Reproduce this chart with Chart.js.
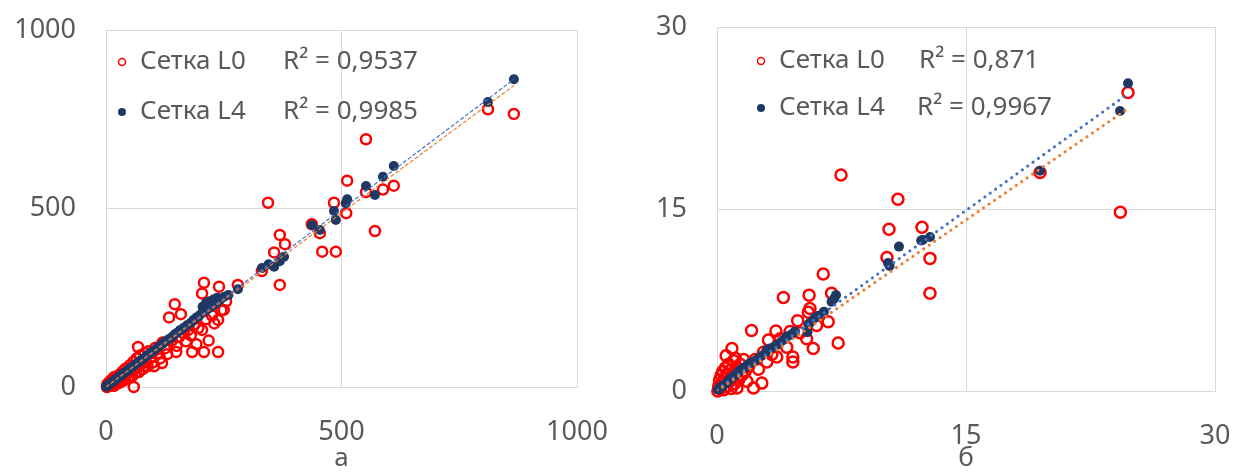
<!DOCTYPE html>
<html>
<head>
<meta charset="utf-8">
<script src="https://cdn.jsdelivr.net/npm/chart.js@4.4.1/dist/chart.umd.min.js"></script>
<style>
    body { margin: 0; background: #fff; }
    .box { position: absolute; top: 0; height: 472px; }
</style>
</head>
<body>
<div class="box" style="left:0;width:620px"><canvas id="chartA" width="620" height="472"></canvas></div>
<div class="box" style="left:620px;width:613px"><canvas id="chartB" width="613" height="472"></canvas></div>
<script>
// series names and captions
const seriesNames = ["Сетка L0", "Сетка L4"];
const captions = ["а", "б"];

// chart а: ticks, R², trend lines
const ticksA = [0, 500, 1000];
const r2A = ["0,9537", "0,9985"];
const slopeA = [0.975, 0.995];
const interceptA = [0, 0];
const trendEndA = 866;

const l0A = [[2,0],[3,8],[5,2],[6,12],[8,4],[10,18],[12,6],[14,22],[15,10],[17,3],[18,28],[20,14],[22,8],[24,30],[25,18],[28,12],
    [30,36],[32,25],[34,16],[36,44],[38,30],[40,20],[42,52],[45,38],[48,28],[50,60],[52,42],[55,30],[58,70],[60,50],[59,0],[62,38],
    [65,80],[68,55],[70,42],[72,88],[75,65],[78,50],[68,112],[82,95],[85,70],[88,58],[90,100],[95,82],[98,68],[102,58],[105,110],
    [110,95],[115,80],[119,67],[120,125],[125,108],[130,92],[134,195],[140,130],[146,232],[149,98],[150,115],[155,140],[159,204],
    [165,150],[170,128],[175,160],[180,145],[183,98],[188,175],[192,120],[196,165],[204,262],[204,160],[208,292],[208,98],[212,190],
    [218,130],[225,200],[230,178],[238,188],[238,98],[240,281],[245,215],[250,216],[255,240],[280,286],[331,325],[344,516],[357,377],
    [369,426],[369,286],[380,400],[437,456],[454,431],[459,379],[484,516],[488,379],[510,487],[512,578],[552,694],[552,546],[571,437],
    [588,553],[611,564],[811,778],[866,765]];
const l4A = [[0,1],[2,3],[4,4],[5,6],[7,8],[9,9],[10,11],[12,13],[14,14],[16,16],[18,19],[20,21],[22,22],[25,25],[27,28],[30,31],
    [33,33],[35,36],[38,39],[41,42],[44,45],[47,47],[50,51],[54,55],[58,58],[62,63],[66,67],[70,70],[75,76],[80,80],[85,86],[90,91],
    [96,97],[102,102],[108,109],[114,115],[120,121],[126,128],[133,134],[140,140],[146,148],[152,153],[158,160],[165,166],[172,173],
    [180,180],[186,188],[192,195],[198,200],[204,207],[205,225],[210,213],[212,235],[216,218],[220,240],[222,224],[228,229],[228,245],
    [235,236],[236,250],[242,244],[250,252],[260,258],[280,274],[331,333],[345,344],[357,337],[369,352],[378,365],[437,454],[454,440],
    [484,493],[488,468],[509,515],[512,526],[552,563],[571,538],[588,589],[611,619],[811,798],[866,862]];

// chart б
const ticksB = [0, 15, 30];
const r2B = ["0,871", "0,9967"];
const slopeB = [0.94, 0.985];
const interceptB = [0, 0.1];
const trendEndB = 24.6;

const l0B = [[0.05,0],[0.1,0.4],[0.15,0.9],[0.2,0.2],[0.25,1.3],[0.3,0.6],[0.35,1.6],[0.4,0.1],[0.45,1.0],[0.5,1.9],[0.55,2.9],
    [0.6,0.4],[0.65,1.4],[0.7,2.2],[0.75,0.8],[0.8,1.7],[0.85,0.2],[0.9,3.5],[0.95,1.2],[1.0,2.5],[1.05,0.6],[1.1,2.7],[1.15,1.5],
    [1.2,0.25],[1.25,1.9],[1.3,0.9],[1.4,2.2],[1.5,1.3],[1.6,2.6],[1.7,1.6],[1.8,0.8],[1.9,2.0],[2.08,4.98],[2.2,0.25],[2.3,2.6],
    [2.5,1.8],[2.7,0.65],[2.8,3.2],[3.0,2.4],[3.1,4.2],[3.3,3.0],[3.55,4.95],[3.6,2.8],[3.8,4.3],[4.0,7.7],[4.2,3.6],[4.4,4.9],
    [4.57,2.8],[4.57,2.4],[4.86,5.8],[5.0,4.8],[5.4,4.3],[5.5,6.5],[5.55,7.9],[5.6,6.8],[5.8,3.5],[6.0,5.4],[6.4,9.65],[6.7,5.7],
    [6.9,8.05],[7.3,3.95],[7.47,17.8],[10.24,11.0],[10.36,13.33],[10.9,15.8],[12.35,13.5],[12.83,10.93],[12.83,8.05],[19.46,18.0],
    [24.3,14.73],[24.76,24.6]];
const l4B = [[0.05,0.1],[0.1,0.15],[0.2,0.3],[0.3,0.35],[0.4,0.5],[0.5,0.6],[0.6,0.7],[0.7,0.85],[0.8,1.0],[0.9,1.1],[1.0,1.2],
    [1.1,1.3],[1.2,1.45],[1.3,1.6],[1.4,1.7],[1.5,1.8],[1.6,1.85],[1.7,1.95],[1.8,2.1],[1.98,2.3],[2.1,2.35],[2.3,2.5],[2.5,2.7],
    [2.7,2.9],[2.9,3.1],[3.0,3.4],[3.2,3.5],[3.4,3.6],[3.6,3.8],[3.8,4.0],[4.0,4.2],[4.2,4.5],[4.4,4.6],[4.58,4.76],[4.7,4.9],
    [5.45,4.85],[5.5,5.5],[5.6,5.6],[5.87,6.0],[6.1,6.2],[6.44,6.54],[6.9,7.35],[7.05,7.6],[7.17,7.9],[10.3,10.55],[10.4,10.3],
    [10.96,11.9],[12.3,12.4],[12.4,12.45],[12.83,12.69],[19.46,18.16],[24.28,23.08],[24.76,25.36]];

const RED = "#FF0000";
const NAVY = "#1F3864";
const TREND = ["#ED7D31", "#4472C4"];
const TEXT = "#595959";
const FONT = "'Noto Sans', 'DejaVu Sans', sans-serif";

const toPoints = arr => arr.map(p => ({ x: p[0], y: p[1] }));

// legend + R² drawn inside the plot area
const insideLegend = {
    id: "insideLegend",
    afterDraw(chart, args, opts) {
        const { ctx, chartArea } = chart;
        ctx.save();
        ctx.font = "26px " + FONT;
        ctx.fillStyle = TEXT;
        ctx.textBaseline = "middle";
        seriesNames.forEach((name, i) => {
            const y = chartArea.top + opts.rows[i];
            const mx = chartArea.left + opts.marker;
            ctx.beginPath();
            ctx.arc(mx, y, i === 0 ? 3.5 : 4, 0, Math.PI * 2);
            if (i === 0) { ctx.strokeStyle = RED; ctx.lineWidth = 1.5; ctx.stroke(); }
            else { ctx.fillStyle = NAVY; ctx.fill(); ctx.fillStyle = TEXT; }
            ctx.fillText(name, chartArea.left + opts.text, y);
            ctx.fillText("R² = " + opts.r2[i], chartArea.left + opts.r2x[i], y);
        });
        ctx.restore();
    }
};

function makeChart(id, cfg) {
    const trend = [0, 1].map(i => ({
        type: "line",
        showLine: true,
        data: [{ x: 0, y: cfg.intercept[i] }, { x: cfg.trendEnd, y: cfg.intercept[i] + cfg.slope[i] * cfg.trendEnd }],
        borderColor: TREND[i],
        borderWidth: cfg.trendWidth,
        borderDash: cfg.trendDash,
        borderCapStyle: cfg.trendCap,
        pointRadius: 0,
        fill: false,
        order: 0
    }));
    new Chart(document.getElementById(id), {
        type: "scatter",
        data: {
            datasets: [
                { label: seriesNames[0], data: toPoints(cfg.l0), pointStyle: "circle", pointRadius: cfg.redR, borderWidth: cfg.redW,
                  pointBorderColor: RED, pointBackgroundColor: "rgba(0,0,0,0)", order: 2, clip: false },
                { label: seriesNames[1], data: toPoints(cfg.l4), pointStyle: "circle", pointRadius: cfg.blueR, borderWidth: 0,
                  pointBorderColor: NAVY, pointBackgroundColor: NAVY, order: 1, clip: false },
                ...trend
            ]
        },
        options: {
            responsive: false,
            animation: false,
            devicePixelRatio: 1,
            layout: { padding: cfg.padding },
            plugins: {
                legend: { display: false },
                tooltip: { enabled: false },
                insideLegend: cfg.legend
            },
            scales: {
                x: {
                    type: "linear", min: cfg.ticks[0], max: cfg.ticks[2],
                    afterBuildTicks: s => { s.ticks = cfg.ticks.map(v => ({ value: v })); },
                    afterFit: s => { s.height = cfg.xHeight; s.paddingLeft = 0; s.paddingRight = 0; },
                    grid: { color: "#D9D9D9", drawTicks: false },
                    border: { color: "#D9D9D9" },
                    ticks: { color: TEXT, font: { family: FONT, size: 27 }, padding: 29, maxRotation: 0, callback: v => String(v) },
                    title: { display: true, text: cfg.caption, color: TEXT, font: { family: FONT, size: 26, lineHeight: 1 }, padding: 0 }
                },
                y: {
                    type: "linear", min: cfg.ticks[0], max: cfg.ticks[2],
                    afterBuildTicks: s => { s.ticks = cfg.ticks.map(v => ({ value: v })); },
                    afterFit: s => { s.width = cfg.yWidth; s.paddingTop = 0; s.paddingBottom = 0; },
                    grid: { color: "#D9D9D9", drawTicks: false },
                    border: { color: "#D9D9D9" },
                    ticks: { color: TEXT, font: { family: FONT, size: 27 }, padding: 30, callback: v => String(v) }
                }
            }
        },
        plugins: [insideLegend]
    });
}

makeChart("chartA", {
    l0: l0A, l4: l4A, ticks: ticksA, caption: captions[0],
    slope: slopeA, intercept: interceptA, trendEnd: trendEndA,
    trendWidth: 1.2, trendDash: [4, 2], trendCap: "butt",
    redR: 5, redW: 2.5, blueR: 5,
    padding: { left: 0, top: 30, right: 43, bottom: 0 },
    xHeight: 85, yWidth: 106,
    legend: { rows: [32, 82], marker: 16, text: 34, r2x: [177, 177], r2: r2A }
});

makeChart("chartB", {
    l0: l0B, l4: l4B, ticks: ticksB, caption: captions[1],
    slope: slopeB, intercept: interceptB, trendEnd: trendEndB,
    trendWidth: 3, trendDash: [0.1, 6.5], trendCap: "round",
    redR: 5.5, redW: 2.5, blueR: 5,
    padding: { left: 0, top: 27, right: 18, bottom: 0 },
    xHeight: 81, yWidth: 97,
    legend: { rows: [34, 81], marker: 44, text: 62, r2x: [202, 200], r2: r2B }
});
</script>
</body>
</html>
